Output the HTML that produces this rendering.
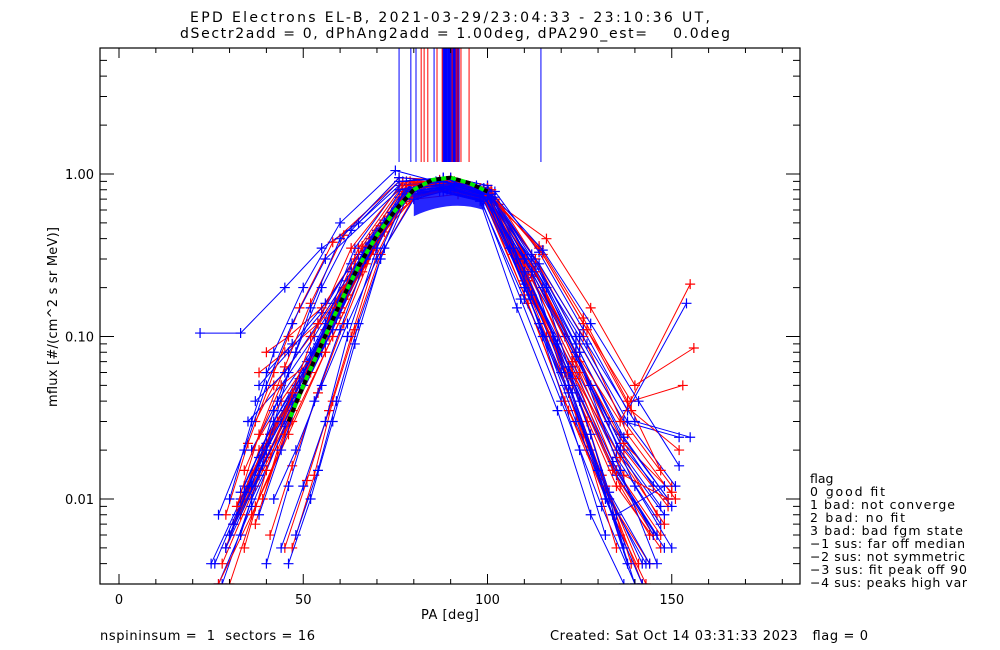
<!DOCTYPE html>
<html><head><meta charset="utf-8"><style>
html,body{margin:0;padding:0;background:#fff;width:1000px;height:650px;overflow:hidden}
svg text{font-family:"DejaVu Sans","Liberation Sans",sans-serif;fill:#000}
</style></head><body>
<svg id="chart" width="1000" height="650" viewBox="0 0 1000 650" xmlns="http://www.w3.org/2000/svg">
<rect width="1000" height="650" fill="#fff"/>
<text x="190" y="22" font-size="14" textLength="520" lengthAdjust="spacing">EPD Electrons EL-B, 2021-03-29/23:04:33 - 23:10:36 UT,</text>
<text x="180" y="38" font-size="14" textLength="550" lengthAdjust="spacing" xml:space="preserve">dSectr2add = 0, dPhAng2add = 1.00deg, dPA290_est=    0.0deg</text>
<defs><clipPath id="clip"><rect x="100" y="48" width="700" height="536"/></clipPath></defs>
<g id="data" clip-path="url(#clip)"></g>
<g id="axes"></g>
<text x="421" y="619" font-size="13" textLength="58" lengthAdjust="spacing">PA [deg]</text>
<text transform="translate(57,407) rotate(-90)" font-size="13" textLength="180" lengthAdjust="spacing">mflux [#/(cm^2 s sr MeV)]</text>
<text x="100" y="640" font-size="13" textLength="215" lengthAdjust="spacing" xml:space="preserve">nspininsum =  1  sectors = 16</text>
<text x="550" y="640" font-size="13" textLength="318" lengthAdjust="spacing" xml:space="preserve">Created: Sat Oct 14 03:31:33 2023   flag = 0</text>
<g font-size="12.5" xml:space="preserve">
<text x="810" y="483">flag</text>
<text x="810" y="496" textLength="75" lengthAdjust="spacing">  0 good fit</text>
<text x="810" y="509" textLength="145" lengthAdjust="spacing">  1 bad: not converge</text>
<text x="810" y="522" textLength="95" lengthAdjust="spacing">  2 bad: no fit</text>
<text x="810" y="535" textLength="153" lengthAdjust="spacing">  3 bad: bad fgm state</text>
<text x="810" y="548" textLength="155" lengthAdjust="spacing">−1 sus: far off median</text>
<text x="810" y="561" textLength="155" lengthAdjust="spacing">−2 sus: not symmetric</text>
<text x="810" y="574" textLength="157" lengthAdjust="spacing">−3 sus: fit peak off 90</text>
<text x="810" y="587" textLength="157" lengthAdjust="spacing">−4 sus: peaks high var</text>
</g>
</svg>
<script>
const xTicks=[0,50,100,150];
const yTicks=[1,0.1,0.01];
const yTickLabels=["1.00","0.10","0.01"];
const vlineRed=[82.0,82.8,83.8,86.3,87.7,90.4,91.5,92.0,92.8,95.0];
const vlineBlue=[76.0,79.2,80.6,85.5,88.0,88.6,89.1,89.6,90.0,90.6,91.0,91.3,91.8,92.3,114.5];
const fitPA=[46,50,55,60,65,70,75,80,85,90,95,100];
const fitFlux=[0.03,0.05,0.09,0.16,0.27,0.42,0.6,0.8,0.92,0.95,0.88,0.78];
const redPA=[
[30,38,48,58,68,79,90,100,112,124,136,146],
[28,37,47,57,67,78,89,99,111,123,135,147],
[34,41,50,60,70,80,90,101,113,125,137,150],
[36,44,53,62,71,81,91,102,114,126,139,153],
[29,38,46,56,66,77,88,98,110,122,134,145],
[33,40,49,59,69,79,90,100,112,124,137,149],
[38,45,54,63,72,80,92,103,116,128,140,156],
[31,39,48,57,68,78,89,100,111,123,136,148],
[35,43,51,61,70,80,91,101,113,126,138,151],
[30,37,47,58,67,78,89,99,110,121,133,144],
[37,42,52,61,71,81,90,102,115,127,139,152],
[32,41,50,60,69,79,91,100,112,125,137,150],
[40,46,55,64,73,82,92,101,114,126,138,147],
[27,36,46,56,66,77,88,99,111,122,134,143],
[34,44,52,62,72,81,90,100,113,124,136,155],
[45,51,57,63,70,79,89,99,107,116,126,136],
[37,43,50,57,65,77,88,100,111,121,131,141],
[32,38,45,52,61,76,87,98,110,123,135,147],
[41,47,54,61,69,78,90,100,109,118,127,139],
[47,53,58,64,71,80,90,100,108,117,127,135],
[29,35,42,49,58,76,88,99,113,125,137,149],
[39,45,52,59,66,78,89,99,111,121,132,142],
[34,40,47,54,63,77,88,99,112,124,136,144]
];
const redFlux=[
[0.006,0.015,0.04,0.12,0.35,0.85,0.9,0.8,0.25,0.07,0.02,0.008],
[0.004,0.012,0.035,0.1,0.3,0.8,0.88,0.75,0.2,0.05,0.012,0.005],
[0.01,0.02,0.05,0.14,0.4,0.82,0.85,0.7,0.3,0.09,0.03,0.012],
[0.02,0.04,0.08,0.2,0.45,0.75,0.8,0.68,0.35,0.12,0.04,0.05],
[0.005,0.02,0.04,0.11,0.32,0.78,0.92,0.78,0.22,0.06,0.015,0.006],
[0.008,0.018,0.05,0.13,0.38,0.9,0.95,0.85,0.28,0.08,0.02,0.009],
[0.06,0.08,0.12,0.25,0.5,0.7,0.75,0.65,0.4,0.15,0.05,0.085],
[0.007,0.02,0.045,0.12,0.36,0.7,0.82,0.72,0.2,0.06,0.018,0.007],
[0.012,0.03,0.06,0.17,0.42,0.88,0.9,0.8,0.3,0.1,0.025,0.01],
[0.003,0.009,0.03,0.1,0.28,0.72,0.85,0.74,0.18,0.04,0.01,0.004],
[0.03,0.05,0.1,0.2,0.48,0.85,0.87,0.7,0.32,0.11,0.035,0.02],
[0.009,0.025,0.055,0.15,0.4,0.8,0.9,0.82,0.27,0.07,0.022,0.011],
[0.08,0.1,0.15,0.3,0.55,0.78,0.8,0.7,0.36,0.13,0.04,0.015],
[0.003,0.008,0.025,0.08,0.25,0.68,0.8,0.7,0.16,0.035,0.008,0.003],
[0.015,0.05,0.07,0.18,0.44,0.76,0.82,0.72,0.25,0.08,0.03,0.21],
[0.005,0.013,0.035,0.1,0.32,0.82,0.88,0.78,0.32,0.1,0.025,0.006],
[0.007,0.02,0.05,0.13,0.35,0.85,0.9,0.76,0.22,0.06,0.014,0.004],
[0.009,0.025,0.065,0.16,0.42,0.95,0.92,0.82,0.28,0.07,0.015,0.006],
[0.006,0.016,0.045,0.12,0.34,0.8,0.86,0.76,0.3,0.1,0.03,0.004],
[0.005,0.014,0.04,0.11,0.32,0.72,0.8,0.72,0.3,0.1,0.02,0.005],
[0.008,0.022,0.06,0.15,0.38,0.9,0.9,0.8,0.25,0.06,0.014,0.01],
[0.01,0.025,0.06,0.15,0.36,0.85,0.88,0.78,0.22,0.06,0.012,0.003],
[0.005,0.015,0.045,0.12,0.35,0.88,0.9,0.8,0.24,0.055,0.012,0.006]
];
const bluePA=[
[29,37,47,57,67,78,89,99,110,122,134,146],
[22,33,45,55,65,76,87,98,109,121,133,145],
[31,39,48,58,68,79,90,100,111,123,135,148],
[33,41,50,59,69,79,90,101,113,124,136,149],
[26,35,45,56,66,77,88,99,110,121,132,142],
[36,43,52,61,70,80,91,101,112,124,137,152],
[30,38,47,57,67,78,89,100,111,123,135,147],
[28,36,46,56,66,77,88,98,109,120,131,140],
[35,44,53,62,71,80,91,102,114,126,138,154],
[32,40,49,58,68,78,90,100,112,124,136,150],
[38,46,55,63,72,81,90,100,112,125,138,151],
[27,36,45,55,65,76,87,98,108,119,128,137],
[34,42,51,60,70,79,90,101,113,125,137,149],
[30,39,48,58,67,78,89,99,110,122,134,146],
[40,47,56,65,74,82,91,101,114,127,140,155],
[29,38,47,56,66,77,88,99,111,123,135,148],
[33,42,50,60,69,79,90,100,112,124,136,147],
[25,34,44,54,64,76,87,98,110,122,133,144],
[37,45,54,63,72,81,91,102,115,128,141,152],
[31,40,49,59,68,78,89,100,111,122,134,145],
[44,50,56,62,70,78,88,98,106,114,124,134],
[46,52,58,64,71,79,89,99,108,118,128,138],
[38,44,50,56,64,77,88,100,110,120,130,140],
[33,40,46,52,60,76,87,98,112,122,132,142],
[30,36,42,50,60,75,86,97,110,124,136,146],
[42,48,55,62,70,78,90,101,110,119,128,137],
[48,54,59,65,72,80,90,100,107,115,125,132],
[36,42,48,55,63,76,88,99,115,125,135,148],
[40,46,53,60,67,79,91,100,112,123,133,143],
[27,34,40,47,56,76,88,100,116,128,140,150]
];
const blueFlux=[
[0.005,0.015,0.04,0.12,0.34,0.8,0.9,0.8,0.22,0.06,0.015,0.006],
[0.105,0.105,0.2,0.35,0.5,0.85,0.9,0.8,0.3,0.1,0.03,0.012],
[0.007,0.02,0.05,0.13,0.37,0.85,0.92,0.82,0.25,0.07,0.02,0.008],
[0.01,0.025,0.06,0.16,0.4,0.78,0.85,0.75,0.28,0.09,0.025,0.01],
[0.004,0.012,0.035,0.1,0.3,0.75,0.88,0.78,0.2,0.05,0.012,0.004],
[0.02,0.04,0.08,0.2,0.45,0.82,0.88,0.76,0.32,0.1,0.03,0.024],
[0.006,0.018,0.045,0.12,0.36,0.72,0.8,0.7,0.22,0.065,0.018,0.007],
[0.003,0.01,0.03,0.09,0.27,0.7,0.82,0.72,0.17,0.04,0.009,0.003],
[0.03,0.05,0.1,0.22,0.48,0.88,0.9,0.78,0.33,0.11,0.035,0.16],
[0.008,0.022,0.055,0.14,0.4,0.9,0.95,0.85,0.27,0.08,0.022,0.009],
[0.05,0.08,0.14,0.28,0.52,0.8,0.82,0.7,0.3,0.1,0.03,0.012],
[0.003,0.009,0.028,0.08,0.24,0.65,0.78,0.68,0.15,0.035,0.008,0.003],
[0.012,0.03,0.07,0.17,0.42,0.82,0.86,0.75,0.26,0.08,0.024,0.01],
[0.006,0.016,0.042,0.11,0.33,0.76,0.84,0.74,0.21,0.06,0.016,0.006],
[0.06,0.09,0.16,0.32,0.58,0.84,0.85,0.72,0.28,0.09,0.03,0.024],
[0.005,0.014,0.038,0.1,0.3,0.7,0.78,0.68,0.19,0.055,0.014,0.005],
[0.011,0.03,0.06,0.16,0.41,0.86,0.9,0.8,0.25,0.075,0.02,0.009],
[0.004,0.011,0.03,0.09,0.26,0.72,0.8,0.7,0.17,0.045,0.011,0.004],
[0.04,0.06,0.12,0.25,0.5,0.8,0.84,0.72,0.34,0.12,0.04,0.016],
[0.007,0.02,0.05,0.13,0.36,0.8,0.88,0.78,0.23,0.065,0.017,0.006],
[0.005,0.012,0.03,0.1,0.35,0.85,0.9,0.8,0.35,0.12,0.03,0.008],
[0.004,0.01,0.03,0.09,0.3,0.8,0.88,0.8,0.3,0.1,0.02,0.004],
[0.008,0.02,0.05,0.12,0.35,0.9,0.95,0.75,0.2,0.06,0.015,0.003],
[0.006,0.02,0.06,0.15,0.4,0.95,0.9,0.8,0.25,0.05,0.01,0.003],
[0.01,0.03,0.08,0.2,0.5,1.05,0.9,0.85,0.3,0.08,0.015,0.004],
[0.01,0.02,0.05,0.12,0.3,0.75,0.82,0.7,0.25,0.09,0.025,0.005],
[0.006,0.015,0.04,0.12,0.35,0.7,0.8,0.72,0.35,0.1,0.02,0.006],
[0.012,0.035,0.08,0.2,0.45,0.9,0.95,0.82,0.2,0.04,0.008,0.012],
[0.004,0.012,0.04,0.11,0.3,0.78,0.85,0.75,0.18,0.045,0.01,0.004],
[0.008,0.02,0.05,0.12,0.3,0.8,0.9,0.78,0.2,0.05,0.012,0.005]
];
const NS='http://www.w3.org/2000/svg';
const X0=100,X1=800,Y0=48,Y1=584;
const xs=pa=>119+pa*3.685;
const ys=f=>174-Math.log10(f)*162.5;
function mk(tag,attrs,parent){const e=document.createElementNS(NS,tag);for(const k in attrs)e.setAttribute(k,attrs[k]);parent.appendChild(e);return e;}
const data=document.getElementById('data');
const axes=document.getElementById('axes');
function drawTrace(pa,fl,color,i,kind){
  const g=mk('g',{},data);
  
  
  const pts=pa.map((p,j)=>xs(p).toFixed(1)+','+ys(fl[j]).toFixed(1)).join(' ');
  const pl=mk('polyline',{points:pts,fill:'none',stroke:color,'stroke-width':1},g);
  
  
  pa.forEach((p,j)=>{
    const x=xs(p),y=ys(fl[j]);
    const m=mk('path',{d:`M${x-5},${y}H${x+5}M${x},${y-5}V${y+5}`,stroke:color,'stroke-width':1.2},g);
    
    
  });
}
const n=Math.max(redPA.length,bluePA.length);
for(let i=0;i<n;i++){
  if(i<bluePA.length)drawTrace(bluePA[i],blueFlux[i],'#0000ff',i,'blue');
  if(i<redPA.length)drawTrace(redPA[i],redFlux[i],'#ff0000',i,'red');
}
const core=mk('path',{d:'',fill:'#0000ff',opacity:0.85},data);


core.setAttribute('d',`M${xs(80)},${ys(0.75)} Q${xs(90)},${ys(1.0)} ${xs(99)},${ys(0.78)} L${xs(99)},${ys(0.6)} Q${xs(90)},${ys(0.7)} ${xs(80)},${ys(0.55)} Z`);
vlineBlue.forEach(v=>{const l=mk('line',{x1:xs(v),x2:xs(v),y1:Y0,y2:162,stroke:'#0000ff','stroke-width':1},data);

});
for(let v=88;v<=92.5;v+=0.35){const l=mk('line',{x1:xs(v),x2:xs(v),y1:Y0,y2:162,stroke:'#0000ff','stroke-width':1.3},data);

}
vlineRed.forEach(v=>{const l=mk('line',{x1:xs(v),x2:xs(v),y1:Y0,y2:162,stroke:'#ff0000','stroke-width':1},data);

});
const fpts=fitPA.map((p,j)=>xs(p).toFixed(1)+','+ys(fitFlux[j]).toFixed(1)).join(' ');
const fb=mk('polyline',{points:fpts,fill:'none',stroke:'#000','stroke-width':4,'stroke-dasharray':'5 5'},data);


const fg=mk('polyline',{points:fpts,fill:'none',stroke:'#00ee00','stroke-width':4,'stroke-dasharray':'5 5','stroke-dashoffset':5},data);


const box=mk('rect',{x:X0,y:Y0,width:X1-X0,height:Y1-Y0,fill:'none',stroke:'#000','stroke-width':1.2},axes);


let d='';
for(let v=0;v<=180;v+=10){const x=xs(v);const L=(v%50===0)?10:5;d+=`M${x},${Y1}V${Y1-L}M${x},${Y0}V${Y0+L}`;}
for(let e=-3;e<=1;e++){for(let k=1;k<=9;k++){const f=k*Math.pow(10,e);const y=ys(f);if(y<Y0||y>Y1)continue;const L=k===1?14:7;d+=`M${X0},${y}H${X0+L}M${X1},${y}H${X1-L}`;}}
const tk=mk('path',{d:d,stroke:'#000','stroke-width':1,fill:'none'},axes);


xTicks.forEach(v=>{const t=mk('text',{x:xs(v),y:604,'font-size':13,'text-anchor':'middle'},axes);t.textContent=v;

});
yTicks.forEach((v,i)=>{const t=mk('text',{x:94,y:ys(v)+5,'font-size':13,'text-anchor':'end'},axes);t.textContent=yTickLabels[i];

});
</script>
</body></html>
